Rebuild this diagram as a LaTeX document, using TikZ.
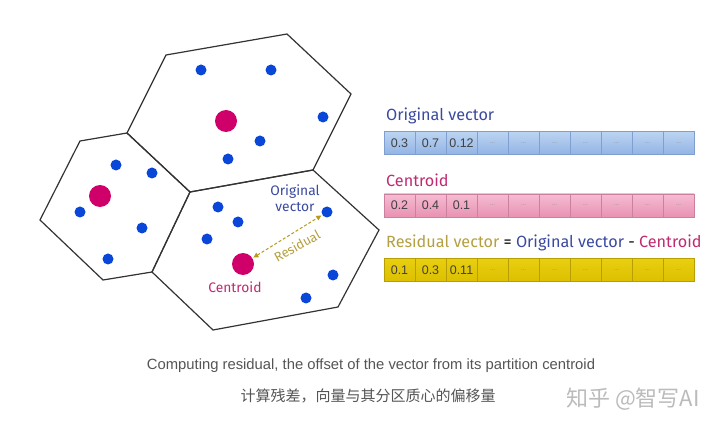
\documentclass[tikz,border=0pt]{standalone}
\usepackage{fontspec}
\setmainfont{Liberation Sans}
\newfontfamily\lblfont{Fira Sans}
\newfontfamily\cjkfont{Noto Sans CJK SC}
\usetikzlibrary{arrows.meta}
\definecolor{dotblue}{HTML}{0A46D8}
\definecolor{cmag}{HTML}{D0006A}
\definecolor{hexline}{HTML}{333333}
\definecolor{txtblue}{HTML}{3A4AA0}
\definecolor{txtmag}{HTML}{C02A70}
\definecolor{txtolive}{HTML}{B4A040}
\definecolor{arrolive}{HTML}{B89A20}
\definecolor{bluetop}{HTML}{BCD4F2}
\definecolor{bluebot}{HTML}{92B4E4}
\definecolor{blueedge}{HTML}{7F9FD0}
\definecolor{pinktop}{HTML}{F6BCD2}
\definecolor{pinkbot}{HTML}{E892B2}
\definecolor{pinkedge}{HTML}{CC809F}
\definecolor{yeltop}{HTML}{E8CF10}
\definecolor{yelbot}{HTML}{DCC000}
\definecolor{yeledge}{HTML}{B89E00}
\definecolor{capgray}{HTML}{555555}
\definecolor{wmgray}{HTML}{BBBBBB}
\newcommand{\celldots}{\textcolor{black!45}{\fontsize{6}{7}\selectfont ...}}
\tikzset{
  hexagon/.style={draw=hexline, line width=1.2pt, line join=miter},
  bdot/.style={circle, fill=dotblue, inner sep=0pt, minimum size=11pt},
  cdot/.style={circle, fill=cmag, inner sep=0pt, minimum size=22pt},
  cell/.style={rectangle, inner sep=0pt, minimum width=31pt, minimum height=23pt,
    font=\fontsize{12.5}{13}\selectfont, text=black!75},
  bluecell/.style={cell, top color=bluetop, bottom color=bluebot, draw=blueedge, line width=0.6pt},
  pinkcell/.style={cell, top color=pinktop, bottom color=pinkbot, draw=pinkedge, line width=0.6pt},
  yelcell/.style={cell, top color=yeltop, bottom color=yelbot, draw=yeledge, line width=0.6pt},
  lbl/.style={font=\lblfont\fontsize{16.2}{18}\selectfont, inner sep=0pt},
  hexlbl/.style={font=\lblfont\fontsize{13.8}{16}\selectfont, inner sep=0pt},
  resarrow/.style={draw=arrolive, line width=1pt, dashed, dash pattern=on 3pt off 2pt,
    {Triangle[length=5pt,width=5pt]}-{Triangle[length=5pt,width=5pt]}, shorten <=1pt, shorten >=1pt},
}
\begin{document}
\begin{tikzpicture}[x=1pt,y=-1pt]
\useasboundingbox (0,0) rectangle (720,430);
\fill[white] (0,0) rectangle (720,430);
% hexagons
\draw[hexagon] (166,55) -- (287,34) -- (351,94) -- (313,170) -- (190,192) -- (127,133) -- cycle;
\draw[hexagon] (80,141) -- (127,133) -- (190,192) -- (152,272) -- (103,280) -- (40,220) -- cycle;
\draw[hexagon] (190,192) -- (313,170) -- (379,230) -- (338,307) -- (213,330) -- (152,272) -- cycle;
% top cell points
\node[bdot] (t1) at (201,70) {};
\node[bdot] (t2) at (271,70) {};
\node[bdot] (t3) at (323,117) {};
\node[bdot] (t4) at (260,141) {};
\node[bdot] (t5) at (228,159) {};
\node[cdot] (tc) at (226,121) {};
% left cell points
\node[bdot] (l1) at (116,165) {};
\node[bdot] (l2) at (152,173) {};
\node[bdot] (l3) at (80,212) {};
\node[bdot] (l4) at (142,228) {};
\node[bdot] (l5) at (108,259) {};
\node[cdot] (lc) at (100,196) {};
% bottom cell points
\node[bdot] (b1) at (218,207) {};
\node[bdot] (b2) at (238,222) {};
\node[bdot] (b3) at (207,239) {};
\node[bdot] (bp) at (327,212) {};
\node[bdot] (b5) at (333,275) {};
\node[bdot] (b6) at (306,298) {};
\node[cdot] (bc) at (243,264) {};
% residual arrow and labels
\draw[resarrow] (bc) -- (bp);
\node[hexlbl, text=txtolive, rotate=29, font=\lblfont\fontsize{13}{14}\selectfont] (reslbl) at (297,246) {Residual};
\node[hexlbl, text=txtblue, align=center] (origlbl) at (295,198) {Original\\vector};
\node[hexlbl, text=txtmag] (centlbl) at (235,287) {Centroid};
% vectors
\node[lbl, text=txtblue, anchor=west] (ovt) at (386,116) {Original vector};
\node[lbl, text=txtmag, anchor=west] (cvt) at (386,180) {Centroid};
\node[lbl, anchor=west] (rvt) at (386,243) {\textcolor{txtolive}{Residual vector} = \textcolor{txtblue}{Original vector} - \textcolor{txtmag}{Centroid}};
\foreach \i/\a/\b/\c in {1/0.3/0.2/0.1, 2/0.7/0.4/0.3, 3/0.12/0.1/0.11}{
  \pgfmathsetmacro{\xx}{384+31*(\i-1)+15.5}
  \node[bluecell] (o\i) at (\xx,143) {\a};
  \node[pinkcell] (c\i) at (\xx,205.5) {\b};
  \node[yelcell] (r\i) at (\xx,270) {\c};
}
\foreach \i in {4,5,6,7,8,9,10}{
  \pgfmathsetmacro{\xx}{384+31*(\i-1)+15.5}
  \node[bluecell] (o\i) at (\xx,143) {\celldots};
  \node[pinkcell] (c\i) at (\xx,205.5) {\celldots};
  \node[yelcell] (r\i) at (\xx,270) {\celldots};
}
% captions
\node[font=\fontsize{14.8}{16}\selectfont, text=capgray] (cap1) at (371,366) {Computing residual, the offset of the vector from its partition centroid};
\node[font=\cjkfont\fontsize{15}{17}\selectfont, text=capgray] (cap2) at (368,396) {计算残差，向量与其分区质心的偏移量};
\node[font=\cjkfont\fontsize{22}{24}\selectfont, text=wmgray] (wm) at (633,399) {知乎 @智写AI};
\end{tikzpicture}
\end{document}
